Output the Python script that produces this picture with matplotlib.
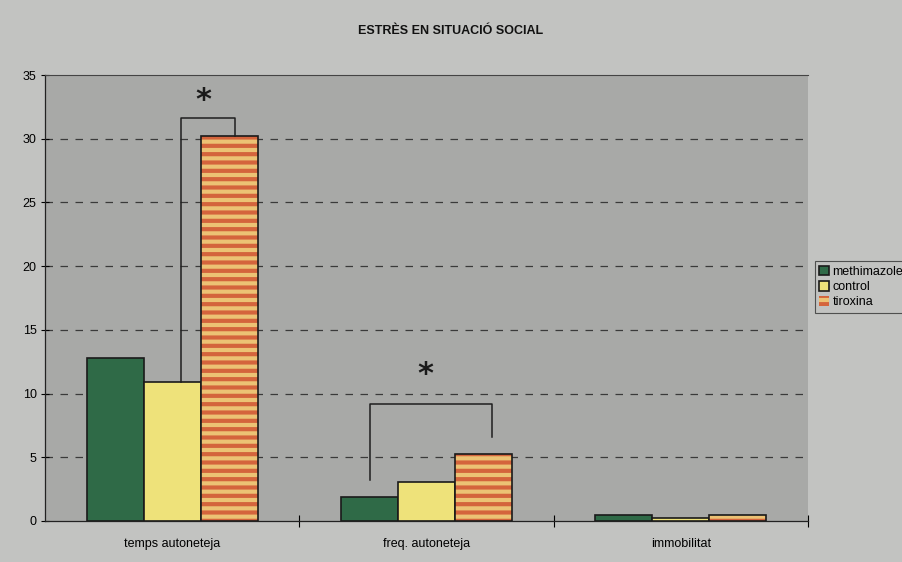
import numpy as np
import matplotlib.pyplot as plt
from matplotlib import font_manager

# bar values per behaviour
categories = ["temps autoneteja", "freq. autoneteja", "immobilitat"]
groups = ["methimazole", "control", "tiroxina"]
methimazole = [12.8, 1.9, 0.47]
control = [10.9, 3.05, 0.25]
tiroxina = [30.2, 5.25, 0.45]
yticks = [0, 5, 10, 15, 20, 25, 30, 35]

# significance brackets: (group, left offset, right offset, left foot, right foot, top, star height)
brackets = [
    (0, 0.035, 0.248, 10.9, 30.2, 31.6, 33.0),
    (1, -0.224, 0.256, 3.2, 6.6, 9.2, 11.5),
]

names = {f.name for f in font_manager.fontManager.ttflist}
narrow = "Liberation Sans Narrow" if "Liberation Sans Narrow" in names else "Liberation Sans"
plt.rcParams["font.family"] = [narrow, "DejaVu Sans"]
plt.rcParams["hatch.linewidth"] = 3.0

outer_bg = "#c2c3c1"
plot_bg = "#a8a9a7"
green = "#2f6a47"
yellow = "#eee27a"
stripe_bg = "#ecc274"
stripe = "#d4643c"

fig = plt.figure(figsize=(9.02, 5.62), dpi=100, facecolor=outer_bg)
ax = fig.add_axes([0.0499, 0.073, 0.846, 0.7935])
ax.set_facecolor(plot_bg)

x = np.arange(len(categories))
w = 0.224
b1 = ax.bar(x - w, methimazole, w, color=green, edgecolor="#1a1a1a", linewidth=1.2, zorder=3)
b2 = ax.bar(x, control, w, color=yellow, edgecolor="#1a1a1a", linewidth=1.2, zorder=3)
b3 = ax.bar(x + w, tiroxina, w, color=stripe_bg, edgecolor=stripe, hatch="--", linewidth=0, zorder=3)
ax.bar(x + w, tiroxina, w, fill=False, edgecolor="#1a1a1a", linewidth=1.2, zorder=4)

for xc, l, r, yl, yr, top, star in brackets:
    ax.plot([xc + l, xc + l, xc + r, xc + r], [yl, top, top, yr],
            color="#1e1e1e", linewidth=1.1, zorder=5)
    ax.text(xc + (l + r) / 2 - 0.02, star, "*", ha="center", va="center",
            fontsize=22, fontweight="bold", color="#1a1a1a", family="DejaVu Sans", zorder=5)

ax.set_xlim(-0.5, 2.5)
ax.set_ylim(0, 35)
ax.set_yticks(yticks)
ax.set_yticklabels([str(v) for v in yticks], fontsize=9)
ax.set_xticks(x)
ax.set_xticklabels(categories, fontsize=9)
ax.tick_params(axis="x", length=0, pad=12)
ax.set_xticks([0.5, 1.5, 2.5], minor=True)
ax.tick_params(axis="x", which="minor", direction="inout", length=8, width=0.8)
ax.tick_params(axis="y", direction="inout", length=6, width=0.8, pad=3)

for v in yticks[1:-1]:
    ax.axhline(v, color="#3a3a3a", linewidth=0.9, linestyle=(0, (6, 6)), zorder=1)

for side in ["left", "bottom"]:
    ax.spines[side].set_color("#222222")
    ax.spines[side].set_linewidth(0.9)
ax.spines["top"].set_color("#444444")
ax.spines["top"].set_linewidth(0.8)
ax.spines["right"].set_visible(False)

fig.text(0.499, 0.944, "ESTRÈS EN SITUACIÓ SOCIAL", ha="center", va="center",
         fontsize=9, fontweight="bold", color="#111111")

leg = fig.legend([b1, b2, b3], groups, loc="upper left", bbox_to_anchor=(0.903, 0.535),
                 fontsize=9, frameon=True, handlelength=0.8, handleheight=0.8,
                 handletextpad=0.3, labelspacing=0.25, borderpad=0.35,
                 fancybox=False, borderaxespad=0)
leg.get_frame().set_facecolor(outer_bg)
leg.get_frame().set_edgecolor("#333333")
leg.get_frame().set_linewidth(0.8)

fig.savefig("out.png", dpi=100, facecolor=outer_bg)
